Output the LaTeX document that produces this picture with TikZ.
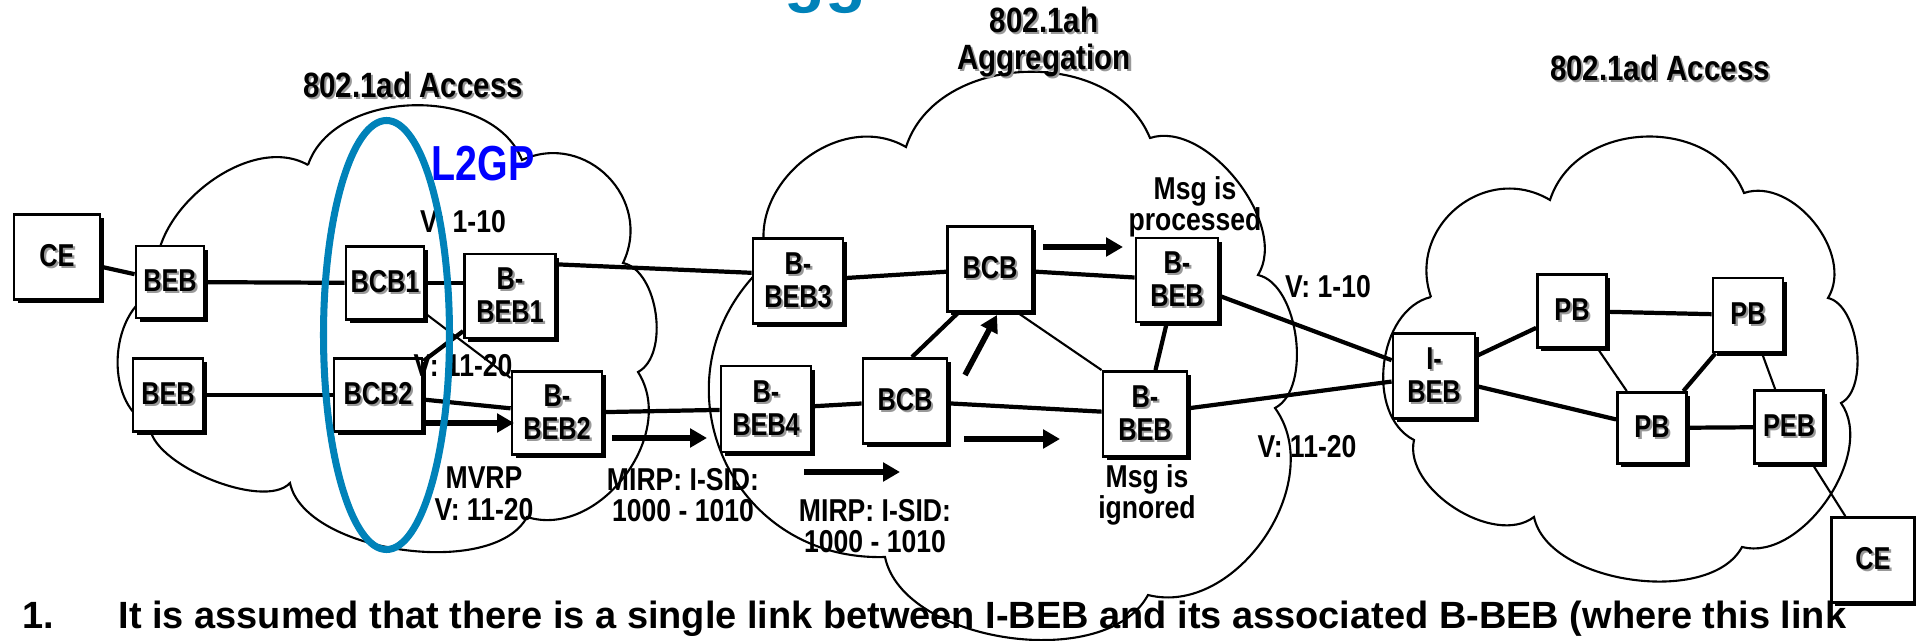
\documentclass[tikz,border=0pt]{standalone}
\usepackage{fontspec}
\usepackage{xcolor}
\setmainfont{Liberation Sans}
\newfontfamily\narrowfont{Liberation Sans}[FakeStretch=0.8]
\newfontfamily\labelfont{Liberation Sans}[FakeStretch=0.84]
\usetikzlibrary{arrows.meta,shadows}
\definecolor{ringblue}{RGB}{0,130,185}
% text with a grey shadow
\newcommand{\shd}[1]{\makebox[0pt][l]{\hspace{0.6pt}\raisebox{-0.6pt}{\textcolor{black!40}{#1}}}#1}
\tikzset{
	box/.style={draw, line width=0.8pt, fill=white, inner sep=0pt, align=center,
		font=\narrowfont\bfseries\fontsize{9}{9.4}\selectfont,
		drop shadow={shadow xshift=1pt, shadow yshift=-1pt, opacity=1, fill=black}},
	big/.style={box, minimum width=0.88cm, minimum height=0.85cm},
	small/.style={box, minimum width=0.70cm, minimum height=0.73cm},
	lnk/.style={line width=1.2pt},
	thinlnk/.style={line width=0.6pt},
	cloudline/.style={line width=0.6pt},
	lobe/.style={bend left=70, looseness=#1},
	msg/.style={line width=1.6pt, -{Triangle[length=4.8pt,width=5.2pt]}},
	lbl/.style={inner sep=0pt, align=center, font=\labelfont\bfseries\fontsize{9}{9}\selectfont}
}

\begin{document}
\begin{tikzpicture}
			\useasboundingbox (0,0) rectangle (19.16,-6.41);
			
			\begin{scope}
				\clip (0,0) rectangle (19.16,-6.41);
				\node[anchor=base west, inner sep=0pt, text=ringblue, font=\bfseries\fontsize{19}{19}\selectfont] (ttl) at (7.84,0) {gg};
			\end{scope}
			
			% clouds
			\draw[cloudline] (3.08,-1.65) to[lobe=0.97] (5.22,-1.60) to[lobe=1.25] (6.23,-2.63) to[lobe=0.84] (6.38,-3.72) to[lobe=1.05] (5.27,-5.17) to[lobe=0.76] (2.90,-4.83) to[lobe=0.65] (1.50,-4.25) to[lobe=1.0] (1.60,-2.90) to[lobe=0.95] (3.08,-1.65);
			\draw[cloudline] (7.68,-2.62) to[lobe=1.12] (9.06,-1.47) to[lobe=1.05] (11.50,-1.38) to[lobe=0.87] (12.58,-2.75) to[lobe=0.8] (12.75,-4.08) to[lobe=1.03] (11.48,-5.95) to[lobe=0.85] (8.85,-5.57) to[lobe=1.3] (7.68,-2.62);
			\draw[cloudline] (14.31,-2.97) to[lobe=1.25] (15.50,-2.00) to[lobe=1.12] (17.44,-1.93) to[lobe=0.98] (18.28,-2.98) to[lobe=0.77] (18.41,-4.03) to[lobe=0.9] (17.42,-5.47) to[lobe=0.83] (15.34,-5.17) to[lobe=0.9] (14.14,-4.40) to[lobe=0.98] (14.31,-2.97);
			
			\node[lbl, font=\labelfont\bfseries\fontsize{10}{10.5}\selectfont] (accL) at (4.13,-0.86) {\shd{802.1ad Access}};
			\node[lbl, font=\labelfont\bfseries\fontsize{10}{10.5}\selectfont] (agg) at (10.44,-0.43) {\shd{802.1ah}\\\shd{Aggregation}};
			\node[lbl, font=\labelfont\bfseries\fontsize{10}{10.5}\selectfont] (accR) at (16.60,-0.69) {\shd{802.1ad Access}};
			
			% bridges
			\node[big, minimum width=0.86cm] (ceL) at (0.57,-2.57) {\shd{CE}};
			\node[small, minimum width=0.68cm, minimum height=0.72cm] (bebT) at (1.70,-2.82) {\shd{BEB}};
			\node[small] (bebB) at (1.68,-3.95) {\shd{BEB}};
			\node[box, minimum width=0.78cm, minimum height=0.73cm] (bcbA) at (3.85,-2.83) {\shd{BCB1}};
			\node[box, minimum width=0.88cm, minimum height=0.73cm] (bcbB) at (3.78,-3.95) {\shd{BCB2}};
			\node[big, minimum width=0.91cm, minimum height=0.84cm] (bbebA) at (5.10,-2.96) {\shd{B-}\\\shd{BEB1}};
			\node[big, minimum width=0.90cm, minimum height=0.83cm] (bbebB) at (5.57,-4.13) {\shd{B-}\\\shd{BEB2}};
			\node[big, minimum width=0.90cm] (bbebC) at (7.98,-2.81) {\shd{B-}\\\shd{BEB3}};
			\node[big, minimum width=0.90cm, minimum height=0.86cm] (bbebD) at (7.66,-4.09) {\shd{B-}\\\shd{BEB4}};
			\node[big, minimum width=0.85cm] (bcbT) at (9.90,-2.69) {\shd{BCB}};
			\node[big, minimum width=0.84cm] (bcbM) at (9.05,-4.01) {\shd{BCB}};
			\node[big, minimum width=0.82cm, minimum height=0.84cm] (bbebP) at (11.77,-2.80) {\shd{B-}\\\shd{BEB}};
			\node[big, minimum width=0.84cm] (bbebI) at (11.45,-4.14) {\shd{B-}\\\shd{BEB}};
			\node[big, minimum width=0.82cm] (ibeb) at (14.34,-3.76) {\shd{I-}\\\shd{BEB}};
			\node[small, minimum width=0.69cm] (pbA) at (15.72,-3.11) {\shd{PB}};
			\node[small, minimum height=0.74cm] (pbB) at (17.48,-3.15) {\shd{PB}};
			\node[small, minimum width=0.69cm, minimum height=0.71cm] (pbC) at (16.52,-4.28) {\shd{PB}};
			\node[small, minimum width=0.69cm] (peb) at (17.89,-4.27) {\shd{PEB}};
			\node[big, minimum width=0.83cm] (ceR) at (18.73,-5.60) {\shd{CE}};
			
			% links
			\draw[lnk] (ceL) -- (bebT);
			\draw[lnk] (bebT) -- (bcbA);
			\draw[lnk] (bcbA) -- (bcbA -| bbebA.west);
			\draw[thinlnk] (bcbA) -- (bbebB);
			\draw[lnk] (bbebA) -- (bcbB);
			\draw[lnk] (bebB) -- (bcbB);
			\draw[lnk] (bcbB) -- (bbebB);
			\draw[lnk] (bbebA.34) -- (bbebC.170);
			\draw[lnk] (bbebC) -- (bcbT);
			\draw[lnk] (bcbT) -- (bbebP);
			\draw[lnk] (bbebB) -- (bbebD);
			\draw[lnk] (bbebD) -- (bcbM);
			\draw[lnk] (bcbM) -- (bbebI);
			\draw[lnk] ([xshift=0.7mm]bcbM.north) -- ([xshift=-3.2mm]bcbT.south);
			\draw[thinlnk] ([xshift=-1.6mm]bcbT.south east) -- (bbebI.north west);
			\draw[lnk] (bbebP) -- (bbebI);
			\draw[lnk] (bbebP) -- (ibeb);
			\draw[lnk] (bbebI) -- (ibeb);
			\draw[lnk] (ibeb) -- (pbA);
			\draw[lnk] (ibeb) -- (pbC);
			\draw[lnk] (pbA) -- (pbB);
			\draw[thinlnk] (pbA) -- (pbC);
			\draw[lnk] (pbB) -- (pbC);
			\draw[thinlnk] (pbB) -- (peb);
			\draw[lnk] (pbC) -- (peb);
			\draw[thinlnk] (peb) -- (ceR);
			
			% message arrows
			\coordinate (m1a) at (4.24,-4.23); \coordinate (m1b) at (5.14,-4.23);
			\coordinate (m2a) at (6.12,-4.38); \coordinate (m2b) at (7.07,-4.38);
			\coordinate (m3a) at (8.04,-4.72); \coordinate (m3b) at (9.00,-4.72);
			\coordinate (m4a) at (9.65,-3.75); \coordinate (m4b) at (9.97,-3.15);
			\coordinate (m5a) at (9.64,-4.39); \coordinate (m5b) at (10.60,-4.39);
			\coordinate (m6a) at (10.43,-2.47); \coordinate (m6b) at (11.23,-2.47);
			\draw[msg] (m1a) -- (m1b);
			\draw[msg] (m2a) -- (m2b);
			\draw[msg] (m3a) -- (m3b);
			\draw[msg] (m4a) -- (m4b);
			\draw[msg] (m5a) -- (m5b);
			\draw[msg] (m6a) -- (m6b);
			
			% labels
			\node[lbl, text=blue, font=\narrowfont\bfseries\fontsize{14}{14}\selectfont] (l2gp) at (4.83,-1.64) {L2GP};
			\node[lbl] (vA) at (4.63,-2.22) {V: 1-10};
			\node[lbl] (vB) at (4.63,-3.66) {V: 11-20};
			\node[lbl] (mvrp) at (4.84,-4.94) {MVRP\\V: 11-20};
			\node[lbl] (mirpA) at (6.83,-4.95) {MIRP: I-SID:\\1000 - 1010};
			\node[lbl] (mirpB) at (8.75,-5.26) {MIRP: I-SID:\\1000 - 1010};
			\node[lbl] (proc) at (11.95,-2.07) {Msg is\\processed};
			\node[lbl] (ign) at (11.47,-4.95) {Msg is\\ignored};
			\node[lbl] (vC) at (13.28,-2.87) {V: 1-10};
			\node[lbl] (vD) at (13.07,-4.47) {V: 11-20};
			
			%\draw[ringblue] (l2gp) -- (bcbA);
			\draw[ringblue, line width=2pt] (3.865,-3.35) ellipse [x radius=0.63, y radius=2.145];
			
			\node[anchor=base west, inner sep=0pt, font=\bfseries\fontsize{10.8}{12}\selectfont] (num) at (0.22,-6.28) {1.};
			\node[anchor=base west, inner sep=0pt, font=\bfseries\fontsize{10.8}{12}\selectfont] (note) at (1.18,-6.28) {It is assumed that there is a single link between I-BEB and its associated B-BEB (where this link};
		\end{tikzpicture}
\end{document}
